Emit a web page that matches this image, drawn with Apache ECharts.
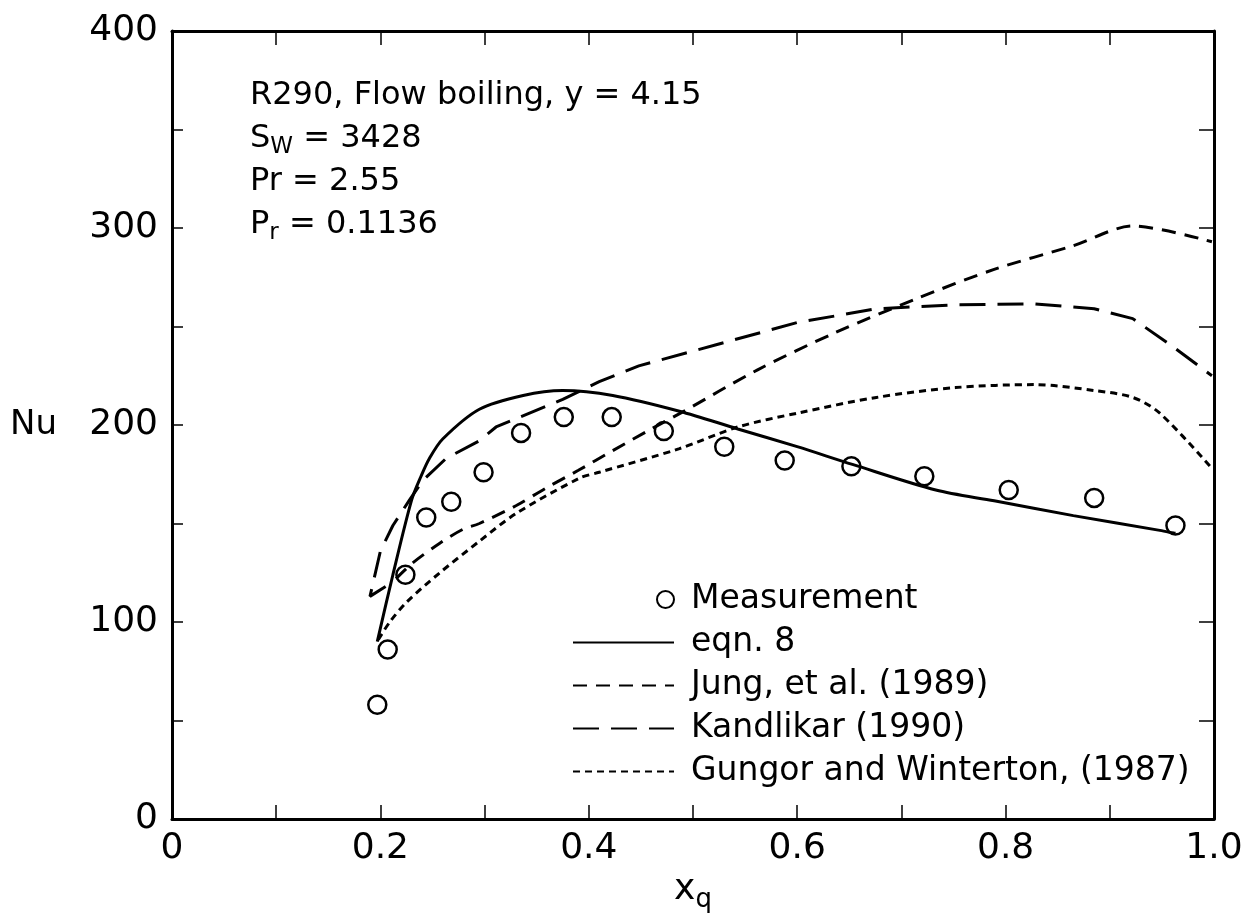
<!DOCTYPE html>
<html>
<head>
<meta charset="utf-8">
<script src="https://cdn.jsdelivr.net/npm/echarts@6/dist/echarts.min.js"></script>
<style>
html,body{margin:0;padding:0;background:#fff;}
#chart{width:1252px;height:923px;}
</style>
</head>
<body>
<div id="chart"></div>
<script>
// ---- data ----
var measX = [0.197,0.207,0.224,0.244,0.268,0.299,0.335,0.376,0.422,0.472,0.530,0.588,0.652,0.722,0.803,0.885,0.963];
var measY = [58,86,124,153,161,176,196,204,204,197,189,182,179,174,167,163,149];

var eqn8X = [0.197,0.212,0.230,0.239,0.247,0.260,0.295,0.337,0.375,0.423,0.487,0.543,0.600,0.653,0.733,0.789,0.865,0.948,0.963];
var eqn8Y = [90,124,162,174,183,193,208,215,217.5,215,207,198,189,180,167,161.5,154,146.5,145];

var jungX = [0.215,0.231,0.257,0.279,0.295,0.330,0.359,0.390,0.423,0.460,0.488,0.562,0.637,0.714,0.789,0.865,0.922,0.998];
var jungY = [122,130,140,147,150,159,168,177,187,198,206,228,247,264,279,291,301,293];

var kandX = [0.205,0.190,0.200,0.212,0.228,0.241,0.263,0.295,0.311,0.375,0.410,0.448,0.524,0.600,0.676,0.752,0.828,0.885,0.922,0.960,0.998];
var kandY = [118,113,136,149,162,172,183,192,199,213,222,230,241,252,259,261,261.5,259,254,240,225];

var gungX = [0.198,0.209,0.225,0.257,0.295,0.330,0.391,0.410,0.487,0.543,0.600,0.676,0.752,0.828,0.885,0.922,0.948,0.998];
var gungY = [91,100,110,125,141,155,173,176,188,199,206,214,219,220.5,217.5,214,206,178];

var xTickLabels = {0:'0',2:'0.2',4:'0.4',6:'0.6',8:'0.8',10:'1.0'};
var yTickLabels = {0:'0',100:'100',200:'200',300:'300',400:'400'};

var seriesNames = ['Measurement','eqn. 8','Jung, et al. (1989)','Kandlikar (1990)','Gungor and Winterton, (1987)'];

function pairs(xs, ys){ return xs.map(function(x,i){ return [x, ys[i]]; }); }

var FONT = 'DejaVu Sans';
var chart = echarts.init(document.getElementById('chart'), null, {renderer:'canvas'});

function axLine(){ return {show:true, onZero:false, lineStyle:{color:'#000', width:3}}; }
function lineSeries(name, xs, ys, dash, smooth){
  return {
    name:name, type:'line', data:pairs(xs, ys), smooth:smooth, showSymbol:false, symbol:'none',
    itemStyle:{color:'rgba(0,0,0,0)', borderWidth:0},
    lineStyle:{color:'#000', width:3, type:dash}
  };
}
var option = {
  backgroundColor:'#fff',
  animation:false,
  title:{
    left:250, top:74, padding:0,
    text:'R290, Flow boiling, y = 4.15\nS{sub|W} = 3428\nPr = 2.55\nP{sub|r} = 0.1136',
    textStyle:{
      fontFamily:FONT, fontSize:32, fontWeight:'normal', color:'#000', lineHeight:43,
      rich:{ sub:{fontFamily:FONT, fontSize:23, color:'#000', padding:[18,0,0,0], lineHeight:43} }
    }
  },
  grid:{left:172, right:38, top:31, bottom:104, containLabel:false},
  xAxis:[{
    type:'value', min:0, max:1, interval:0.1, position:'bottom',
    axisLine:axLine(),
    axisTick:{show:true, inside:true, length:14, lineStyle:{color:'#000', width:1.5}},
    splitLine:{show:false},
    axisLabel:{
      fontFamily:FONT, fontSize:36, color:'#000', margin:12,
      formatter:function(v){ var k=Math.round(v*10); return xTickLabels[k]!==undefined ? xTickLabels[k] : ''; }
    },
    name:'{x|x}{q|q}', nameLocation:'middle', nameGap:42,
    nameTextStyle:{ rich:{ x:{fontFamily:FONT, fontSize:36, color:'#000'}, q:{fontFamily:FONT, fontSize:26, color:'#000', padding:[20,0,0,0]} } }
  },{
    type:'value', min:0, max:1, interval:0.1, position:'top',
    axisLine:axLine(),
    axisTick:{show:true, inside:true, length:14, lineStyle:{color:'#000', width:1.5}},
    splitLine:{show:false}, axisLabel:{show:false}
  }],
  yAxis:[{
    type:'value', min:0, max:400, interval:50, position:'left',
    axisLine:axLine(),
    axisTick:{show:true, inside:true, length:11, lineStyle:{color:'#000', width:1.5}},
    splitLine:{show:false},
    axisLabel:{
      fontFamily:FONT, fontSize:36, color:'#000', margin:14,
      formatter:function(v){ var k=Math.round(v); return yTickLabels[k]!==undefined ? yTickLabels[k] : ''; }
    },
    name:'Nu', nameLocation:'middle', nameRotate:0, nameGap:115,
    nameTextStyle:{fontFamily:FONT, fontSize:34, color:'#000'}
  },{
    type:'value', min:0, max:400, interval:50, position:'right',
    axisLine:axLine(),
    axisTick:{show:true, inside:true, length:15, lineStyle:{color:'#000', width:1.5}},
    splitLine:{show:false}, axisLabel:{show:false}
  }],
  legend:[{
    data:[seriesNames[0]], orient:'vertical', left:656, top:578, padding:0,
    itemWidth:17, itemHeight:17, itemGap:0,
    textStyle:{fontFamily:FONT, fontSize:33, color:'#000', lineHeight:43, padding:[0,0,0,12]}
  },{
    data:seriesNames.slice(1), orient:'vertical', left:572, top:621, padding:0,
    itemWidth:101, itemHeight:14, itemGap:0,
    itemStyle:{color:'rgba(0,0,0,0)', borderWidth:0},
    lineStyle:{width:2},
    textStyle:{fontFamily:FONT, fontSize:33, color:'#000', lineHeight:43, padding:[0,0,0,12]}
  }],
  series:[{
    name:seriesNames[0], type:'scatter', data:pairs(measX, measY), z:5,
    symbol:'circle', symbolSize:18,
    itemStyle:{color:'rgba(0,0,0,0)', borderColor:'#000', borderWidth:2.5, opacity:1}
  },
    lineSeries(seriesNames[1], eqn8X, eqn8Y, 'solid', 0.3),
    lineSeries(seriesNames[2], jungX, jungY, [14,9], 0.3),
    lineSeries(seriesNames[3], kandX, kandY, [26,12], false),
    lineSeries(seriesNames[4], gungX, gungY, [7,5], 0.3)
  ]
};
chart.setOption(option);
</script>
</body>
</html>
